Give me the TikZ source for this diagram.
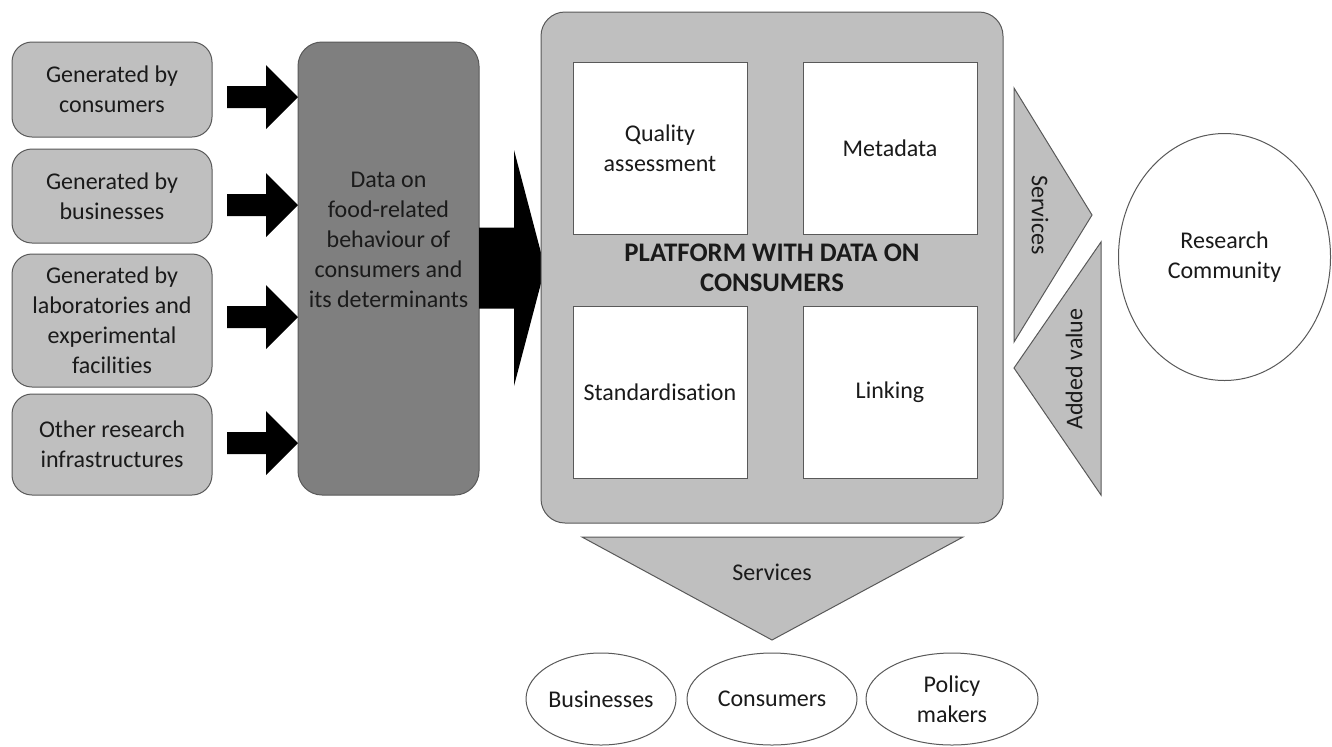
\documentclass[tikz,border=0pt]{standalone}
\usepackage{fontspec}
\setmainfont{Carlito}[Ligatures={NoCommon}]
\usetikzlibrary{shapes.geometric}
\definecolor{lightfill}{HTML}{BFBFBF}
\definecolor{darkfill}{HTML}{7F7F7F}
\definecolor{edge}{HTML}{595959}
\definecolor{txt}{HTML}{1A1A1A}
\newcommand{\myblockarrow}[6]{%
  \fill[black] (#1,#4-#5) -- (#2,#4-#5) -- (#2,#4-#6) -- (#3,#4) -- (#2,#4+#6) -- (#2,#4+#5) -- (#1,#4+#5) -- cycle;}
\begin{document}
\begin{tikzpicture}[x=0.5pt,y=-0.5pt,
  every node/.style={font=\fontsize{12}{15}\selectfont, align=center, text=txt},
  srcbox/.style={draw=edge, line width=0.5pt, fill=lightfill, rounded corners=10pt, minimum width=100pt, inner sep=0pt},
  databox/.style={draw=edge, line width=0.5pt, fill=darkfill, rounded corners=12pt, minimum width=90.5pt, minimum height=226.5pt, inner sep=0pt},
  platbox/.style={draw=edge, line width=0.5pt, fill=lightfill, rounded corners=12pt, minimum width=231pt, minimum height=255.5pt, inner sep=0pt},
  whitebox/.style={draw=edge, line width=0.5pt, fill=white, minimum width=87pt, minimum height=86pt, inner sep=0pt},
  tri/.style={draw=edge, line width=0.5pt, fill=lightfill},
  oval/.style={draw=edge, line width=0.5pt, fill=white, ellipse, inner sep=0pt},
  plain/.style={inner sep=0pt}]
\useasboundingbox (0,0) rectangle (1332,746);

% source boxes
\node[srcbox, minimum height=47.5pt] (b1) at (112,89.5) {Generated by\\consumers};
\node[srcbox, minimum height=47pt] (b2) at (112,196) {Generated by\\businesses};
\node[srcbox, minimum height=66.5pt] (b3) at (112,320.5) {Generated by\\laboratories and\\experimental\\facilities};
\node[srcbox, minimum height=50.5pt] (b4) at (112,444.5) {Other research\\infrastructures};

% data box
\node[databox] (data) at (388.5,268.5) {};
\node[plain] (datatext) at (388.5,240) {Data on\\food-related\\behaviour of\\consumers and\\its determinants};

% small arrows
\myblockarrow{227}{266}{298}{97}{11}{32}
\myblockarrow{227}{266}{298}{205}{11}{32}
\myblockarrow{227}{266}{298}{317}{11}{32}
\myblockarrow{227}{266}{298}{443}{11}{32}

% big arrow
\myblockarrow{479}{514}{545}{268}{40.5}{118}

% platform
\node[platbox] (plat) at (772,267.5) {};
\node[whitebox] (qa) at (660,148.5) {Quality\\assessment};
\node[whitebox] (meta) at (890,148.5) {Metadata};
\node[whitebox] (std) at (660,392.5) {Standardisation};
\node[whitebox] (link) at (890,392.5) {Linking};
\node[plain, font=\fontsize{13.4}{15}\selectfont\bfseries] (plattext) at (772,268) {PLATFORM WITH DATA ON\\CONSUMERS};

% right triangles
\draw[tri] (1014,88) -- (1092,215) -- (1014,342) -- cycle;
\draw[tri] (1101,242) -- (1101,495) -- (1014,368) -- cycle;
\node[plain, rotate=-90] (serv1) at (1040,215) {Services};
\node[plain, rotate=90] (added) at (1074,369) {Added value};

% research community
\node[oval, minimum width=106pt, minimum height=123.5pt] (rc) at (1224.5,257) {Research\\Community};

% bottom triangle
\draw[tri] (582,537) -- (963,537) -- (772,640) -- cycle;
\node[plain] (serv2) at (772,572) {Services};

% bottom ovals
\node[oval, minimum width=75pt, minimum height=46pt] (bus) at (601,699) {Businesses};
\node[oval, minimum width=85pt, minimum height=46pt] (con) at (772,699) {Consumers};
\node[oval, minimum width=86pt, minimum height=46pt] (pol) at (952,699) {Policy\\makers};
\end{tikzpicture}
\end{document}
